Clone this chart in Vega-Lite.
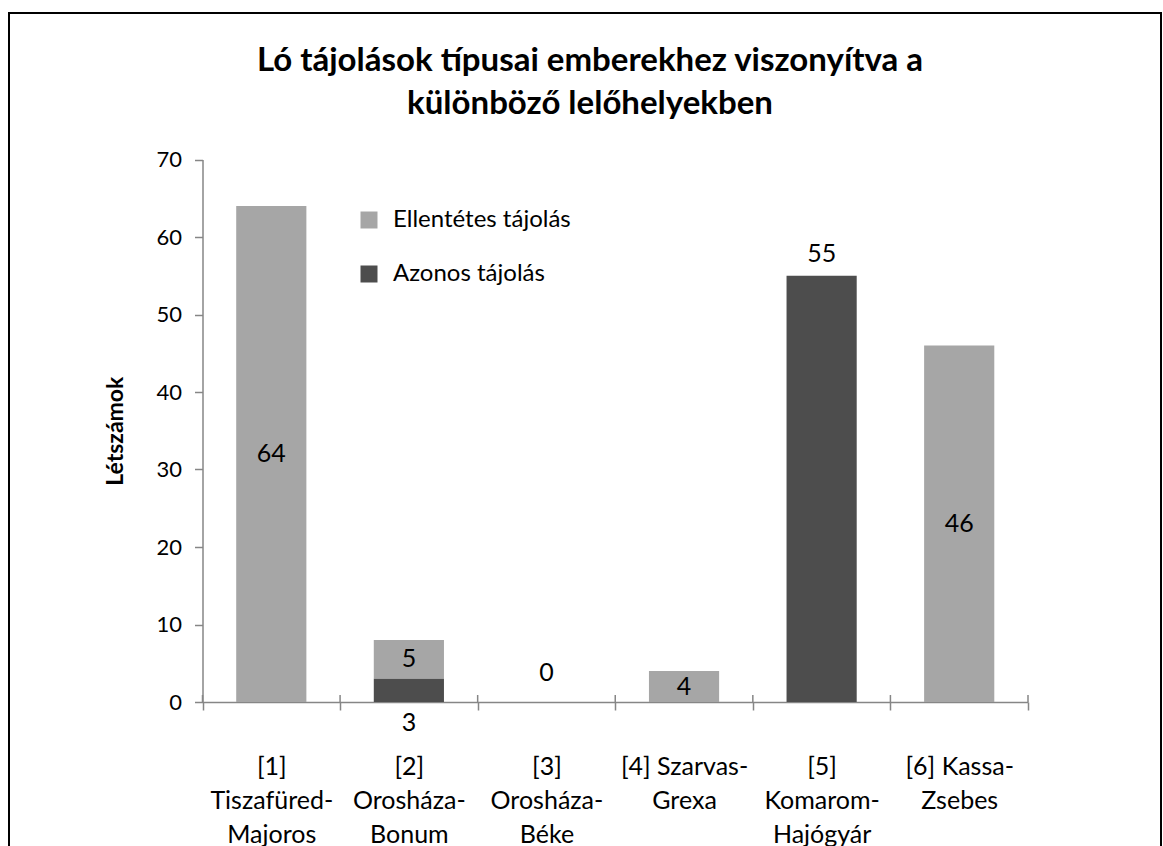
{
  "$schema": "https://vega.github.io/schema/vega-lite/v6.json",
  "autosize": {"type": "none"},
  "padding": {"left": 9, "top": 13, "right": 2, "bottom": -17},
  "width": 1152,
  "height": 850,
  "background": "white",
  "config": {
    "font": "Lato",
    "view": {"stroke": "black", "strokeWidth": 2},
    "axis": {"grid": false}
  },
  "title": {
    "text": ["Ló tájolások típusai emberekhez viszonyítva a", "különböző lelőhelyekben"],
    "fontSize": 33,
    "fontWeight": "bold",
    "font": "Lato",
    "color": "black",
    "lineHeight": 43,
    "anchor": "middle",
    "dx": 5,
    "offset": -108
  },
  "data": {
    "values": [
      {"cat": "[1]|Tiszafüred-|Majoros", "series": "Ellentétes tájolás", "value": 64},
      {"cat": "[1]|Tiszafüred-|Majoros", "series": "Azonos tájolás", "value": 0},
      {"cat": "[2]|Orosháza-|Bonum", "series": "Ellentétes tájolás", "value": 5},
      {"cat": "[2]|Orosháza-|Bonum", "series": "Azonos tájolás", "value": 3},
      {"cat": "[3]|Orosháza-|Béke", "series": "Ellentétes tájolás", "value": 0},
      {"cat": "[3]|Orosháza-|Béke", "series": "Azonos tájolás", "value": 0},
      {"cat": "[4] Szarvas-|Grexa", "series": "Ellentétes tájolás", "value": 4},
      {"cat": "[4] Szarvas-|Grexa", "series": "Azonos tájolás", "value": 0},
      {"cat": "[5]|Komarom-|Hajógyár", "series": "Ellentétes tájolás", "value": 0},
      {"cat": "[5]|Komarom-|Hajógyár", "series": "Azonos tájolás", "value": 55},
      {"cat": "[6] Kassa-|Zsebes", "series": "Ellentétes tájolás", "value": 46},
      {"cat": "[6] Kassa-|Zsebes", "series": "Azonos tájolás", "value": 0}
    ]
  },
  "layer": [
    {
      "mark": {"type": "bar", "width": {"band": 0.51}},
      "encoding": {
        "x": {
          "field": "cat", "type": "nominal",
          "scale": {
            "domain": ["[1]|Tiszafüred-|Majoros", "[2]|Orosháza-|Bonum", "[3]|Orosháza-|Béke", "[4] Szarvas-|Grexa", "[5]|Komarom-|Hajógyár", "[6] Kassa-|Zsebes"],
            "range": [193.5, 1019], "paddingInner": 0, "paddingOuter": 0
          },
          "axis": {
            "title": null,
            "labelExpr": "isValid(datum.value) && datum.value !== 'undefined' ? split(datum.value, '|') : ''",
            "labelAngle": 0,
            "labelFontSize": 25,
            "labelColor": "black",
            "labelLineHeight": 34,
            "labelBaseline": "top",
            "labelPadding": 44,
            "labelLimit": 0,
            "labelOverlap": false,
            "tickBand": "extent",
            "tickSize": 8,
            "tickWidth": 1.5,
            "tickColor": "#868686",
            "domainColor": "#868686",
            "domainWidth": 1.5,
            "offset": -161
          }
        },
        "y": {
          "field": "value", "type": "quantitative", "stack": "zero",
          "scale": {"domain": [0, 70], "range": [689, 146.5], "nice": false, "zero": false},
          "axis": {
            "title": "Létszámok",
            "titleFontSize": 23,
            "titleFontWeight": "bold",
            "titleColor": "black",
            "titlePadding": 28,
            "values": [0, 10, 20, 30, 40, 50, 60, 70],
            "labelFontSize": 22,
            "labelColor": "black",
            "labelPadding": 13,
            "tickSize": 8,
            "tickWidth": 1.5,
            "tickColor": "#868686",
            "domainColor": "#868686",
            "domainWidth": 1.5,
            "offset": -193.5
          }
        },
        "color": {
          "field": "series", "type": "nominal",
          "scale": {"domain": ["Ellentétes tájolás", "Azonos tájolás"], "range": ["#A6A6A6", "#4D4D4D"]},
          "legend": {
            "title": null,
            "orient": "none",
            "legendX": 348,
            "legendY": 195,
            "symbolType": "square",
            "symbolSize": 289,
            "symbolStrokeWidth": 0,
            "labelFontSize": 24,
            "labelColor": "black",
            "labelOffset": 12,
            "labelLimit": 0,
            "rowPadding": 30,
            "padding": 0
          }
        },
        "order": {"field": "series", "sort": "ascending"}
      }
    },
    {
      "transform": [
        {"stack": "value", "groupby": ["cat"], "sort": [{"field": "series", "order": "ascending"}], "as": ["v0", "v1"]},
        {"filter": "datum.series === 'Ellentétes tájolás' && datum.value > 0"},
        {"calculate": "(datum.v0 + datum.v1) / 2", "as": "mid"}
      ],
      "mark": {"type": "text", "fontSize": 25, "color": "black", "baseline": "middle"},
      "encoding": {
        "x": {"field": "cat", "type": "nominal"},
        "y": {"field": "mid", "type": "quantitative"},
        "text": {"field": "value", "type": "quantitative"}
      }
    },
    {
      "transform": [{"filter": "datum.series === 'Azonos tájolás' && datum.value > 10"}],
      "mark": {"type": "text", "fontSize": 25, "color": "black", "baseline": "middle", "dy": -22},
      "encoding": {
        "x": {"field": "cat", "type": "nominal"},
        "y": {"field": "value", "type": "quantitative"},
        "text": {"field": "value", "type": "quantitative"}
      }
    },
    {
      "transform": [{"filter": "datum.series === 'Azonos tájolás' && datum.value > 0 && datum.value < 10"}],
      "mark": {"type": "text", "fontSize": 25, "color": "black", "baseline": "middle", "dy": 21},
      "encoding": {
        "x": {"field": "cat", "type": "nominal"},
        "y": {"datum": 0},
        "text": {"field": "value", "type": "quantitative"}
      }
    },
    {
      "transform": [{"filter": "datum.cat === '[3]|Orosháza-|Béke' && datum.series === 'Ellentétes tájolás'"}],
      "mark": {"type": "text", "fontSize": 25, "color": "black", "baseline": "middle", "dy": -29},
      "encoding": {
        "x": {"field": "cat", "type": "nominal"},
        "y": {"datum": 0},
        "text": {"field": "value", "type": "quantitative"}
      }
    },
    {
      "transform": [{"filter": "datum.series === 'Ellentétes tájolás'"}],
      "mark": {"type": "rule", "color": "#868686", "strokeWidth": 1.5},
      "encoding": {
        "x": {"field": "cat", "type": "nominal", "bandPosition": 0},
        "y": {"datum": 0},
        "y2": {"datum": 0.9}
      }
    },
    {
      "transform": [{"filter": "datum.cat === '[6] Kassa-|Zsebes' && datum.series === 'Ellentétes tájolás'"}],
      "mark": {"type": "rule", "color": "#868686", "strokeWidth": 1.5},
      "encoding": {
        "x": {"field": "cat", "type": "nominal", "bandPosition": 1},
        "y": {"datum": 0},
        "y2": {"datum": 0.9}
      }
    }
  ]
}
